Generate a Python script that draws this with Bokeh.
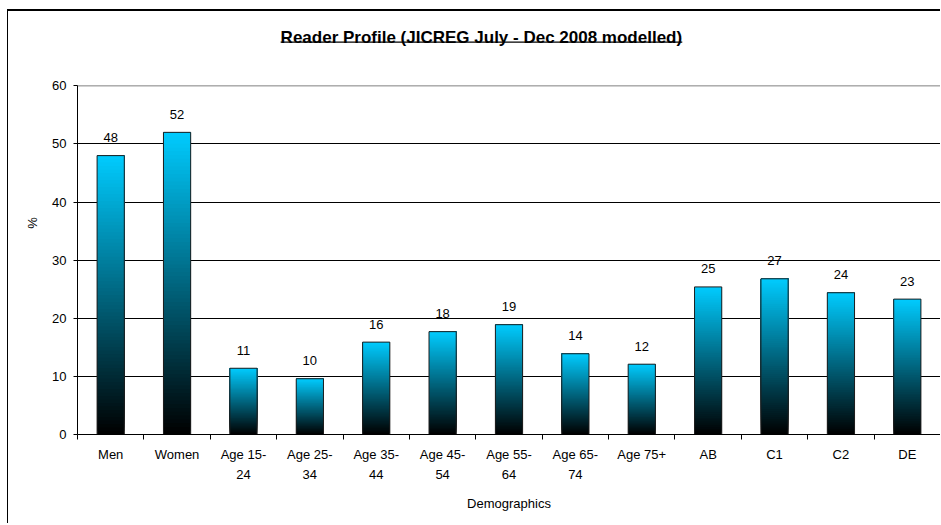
from bokeh.plotting import figure
from bokeh.models import FixedTicker, Range1d
from bokeh.core.properties import value
from bokeh.embed import file_html
from bokeh.resources import INLINE

# ---- data ----
categories = ["Men", "Women", "Age 15-24", "Age 25-34", "Age 35-44", "Age 45-54",
              "Age 55-64", "Age 65-74", "Age 75+", "AB", "C1", "C2", "DE"]
tick_labels = ["Men", "Women", "Age 15-\n24", "Age 25-\n34", "Age 35-\n44", "Age 45-\n54",
               "Age 55-\n64", "Age 65-\n74", "Age 75+", "AB", "C1", "C2", "DE"]
values = [48.0, 52.0, 11.4, 9.6, 15.9, 17.7, 18.9, 13.9, 12.1, 25.4, 26.8, 24.4, 23.3]
y_ticks = [0, 10, 20, 30, 40, 50, 60]
grid_ticks = [10, 20, 30, 40, 50]
title_text = "Reader Profile (JICREG July - Dec 2008 modelled)"

FONT = "Liberation Sans"
idx = list(range(len(categories)))
labels = [f"{v:.0f}" for v in values]
x0, x1 = -0.5, len(categories) - 0.5
y_max = 60

p = figure(width=933, height=514, x_range=Range1d(x0, x1), y_range=Range1d(0, 72.8),
           output_backend="svg", toolbar_location=None,
           min_border_left=69, min_border_right=1, min_border_top=0, min_border_bottom=91)
p.styles = {"margin-left": "7px", "margin-top": "9px",
            "border-left": "1px solid #000000", "border-top": "2px solid #000000"}
p.background_fill_color = "white"
p.border_fill_color = "white"
p.outline_line_color = None

# gradient bars (cyan top -> black bottom), built from the data
N = 80
gx, gb, gt, gc = [], [], [], []
for i, v in zip(idx, values):
    for k in range(N):
        f = (k + 0.5) / N
        gx.append(i)
        gb.append(v * k / N)
        gt.append(v)
        gc.append("#%02x%02x%02x" % (0, int(204 * f), int(255 * f)))
p.vbar(x=gx, bottom=gb, top=gt, width=0.41, fill_color=gc, line_color=None)
p.vbar(x=idx, top=values, width=0.41, fill_color=None, line_color="#1e1e1e", line_width=1)

# plot-area border (top and right, grey)
p.segment(x0=[x0, x1], y0=[y_max, 0], x1=[x1, x1], y1=[y_max, y_max],
          line_color="#808080", line_width=1)

# value labels
p.text(x=idx, y=values, text=labels, text_align="center", text_baseline="middle",
       y_offset=-18, text_font=value(FONT), text_font_size="13px", text_color="#000000")

# title (bold, underlined)
p.text(x=[5.584], y=[68.25], text=[title_text], text_align="center",
       text_baseline="alphabetic", text_font=value(FONT), text_font_size="17px",
       text_font_style="bold", text_color="#000000")
p.segment(x0=[2.56], y0=[67.54], x1=[8.61], y1=[67.54], line_color="#000000", line_width=1.3)

# axes
p.yaxis.ticker = FixedTicker(ticks=y_ticks)
p.yaxis.bounds = (0, y_max)
p.yaxis.major_tick_in = 0
p.yaxis.major_tick_out = 4
p.yaxis.minor_tick_line_color = None
p.yaxis.axis_line_color = "#000000"
p.yaxis.major_tick_line_color = "#000000"
p.yaxis.major_label_standoff = 7
p.yaxis.major_label_text_font = FONT
p.yaxis.major_label_text_font_size = "13px"
p.yaxis.major_label_text_color = "#000000"
p.yaxis.axis_label = "%"
p.yaxis.axis_label_text_font = FONT
p.yaxis.axis_label_text_font_size = "13px"
p.yaxis.axis_label_text_font_style = "normal"
p.yaxis.axis_label_text_color = "#000000"
p.yaxis.axis_label_standoff = 9

p.xaxis.ticker = FixedTicker(ticks=idx, minor_ticks=[i - 0.5 for i in range(len(categories) + 1)])
p.xaxis.major_label_overrides = {i: lab for i, lab in zip(idx, tick_labels)}
p.xaxis.major_tick_in = 0
p.xaxis.major_tick_out = 0
p.xaxis.minor_tick_in = 0
p.xaxis.minor_tick_out = 5
p.xaxis.minor_tick_line_color = "#000000"
p.xaxis.axis_line_color = "#000000"
p.xaxis.major_label_standoff = 7
p.xaxis.major_label_text_font = FONT
p.xaxis.major_label_text_font_size = "13px"
p.xaxis.major_label_text_color = "#000000"
p.xaxis.major_label_text_line_height = 1.35
p.xaxis.axis_label = "Demographics"
p.xaxis.axis_label_text_font = FONT
p.xaxis.axis_label_text_font_size = "13px"
p.xaxis.axis_label_text_font_style = "normal"
p.xaxis.axis_label_text_color = "#000000"
p.xaxis.axis_label_standoff = 11

p.xgrid.visible = False
p.ygrid.ticker = FixedTicker(ticks=grid_ticks)
p.ygrid.grid_line_color = "#000000"
p.ygrid.grid_line_width = 1

open("out.html", "w").write(file_html(p, INLINE))
